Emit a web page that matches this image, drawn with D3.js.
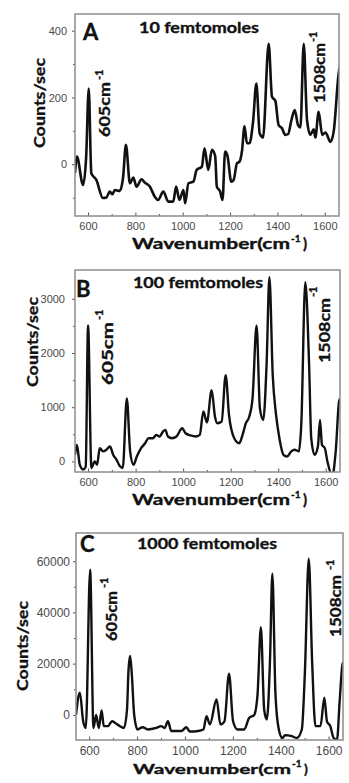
<!DOCTYPE html>
<meta charset="utf-8">
<script src="https://d3js.org/d3.v7.min.js"></script>
<style>
  body { margin: 0; background: #fff; }
  .tick text { fill: #4a4a4a; font-family: "Liberation Sans", Arial, sans-serif; }
  .tick line { stroke: #555; }
  .lbl { font-family: Lato, "Open Sans", sans-serif; font-weight: bold; fill: #111; stroke: #111; stroke-width: 0.35px; }
</style>
<body>
<div id="chart"></div>
<script>

// shared x ticks
var xTicks = [600, 800, 1000, 1200, 1400, 1600];
var xMinor = [700, 900, 1100, 1300, 1500];

// panel A: 10 femtomoles
var wnA = [545,553,579,592,603,614,635,663,677,692,703,713,734,748,760,777,791,805,826,840,
  861,882,896,918,939,960,972,986,1003,1010,1024,1045,1059,1081,1092,1108,1123,1137,1144,1158,
  1168,1179,1189,1205,1215,1229,1240,1250,1261,1271,1282,1297,1311,1325,1339,1363,1377,1391,1405,1419,
  1433,1445,1459,1473,1487,1497,1511,1525,1539,1553,1560,1574,1589,1603,1624,1638,1657,1662];
var countsA = [-27,23,-62,20,227,-27,-47,-101,-100,-82,-90,-77,-80,-40,58,-57,-40,-67,-45,-55,
  -67,-97,-107,-82,-112,-112,-67,-107,-77,-117,-57,-52,-17,-7,48,-17,43,25,-67,-82,
  -107,38,25,-52,-47,3,8,38,114,63,63,127,242,92,80,361,202,190,117,108,
  88,90,132,162,117,110,361,132,88,105,80,157,88,95,67,100,262,290];
var yTicksA = [0, 200, 400];
var yMinorA = [-100, 100, 300];

// panel B: 100 femtomoles
var wnB = [545,553,565,579,590,600,614,628,638,649,663,677,692,706,720,734,746,763,777,791,
  805,823,840,854,873,887,901,915,925,936,953,972,996,1010,1031,1052,1070,1085,1100,1120,
  1134,1144,1162,1179,1193,1215,1236,1250,1264,1278,1292,1309,1323,1337,1351,1363,1377,1391,1405,1422,
  1437,1455,1469,1487,1497,1514,1530,1539,1553,1567,1576,1584,1596,1607,1628,1642,1657,1662];
var countsB = [123,306,-61,-150,-100,2508,-122,0,-60,245,185,215,275,120,30,-90,-120,1163,185,-61,
  90,245,335,428,428,490,460,550,581,460,428,460,612,520,480,460,490,920,720,1315,
  825,705,735,1590,857,428,336,490,705,825,1163,2508,980,765,1780,3395,1590,857,428,123,
  92,185,215,185,673,3303,1780,428,123,275,765,306,245,0,-260,185,1132,1150];
var yTicksB = [0, 1000, 2000, 3000];
var yMinorB = [500, 1500, 2500];

// panel C: 1000 femtomoles
var wnC = [545,561,575,586,604,618,629,640,652,661,678,696,717,745,758,764,771,778,788,802,
  823,845,880,901,915,929,943,985,1006,1020,1055,1077,1090,1104,1132,1148,1165,1184,1201,1219,
  1247,1268,1289,1303,1317,1331,1342,1355,1365,1378,1392,1407,1418,1446,1467,1488,1501,1517,1531,1545,
  1566,1582,1593,1607,1621,1635,1646,1658,1662];
var countsC = [0,8640,-2500,-5100,56700,-5100,0,-5100,1700,-4400,-4400,-2500,-3700,-5100,2000,17000,23000,16000,0,-5700,
  -4800,-5700,-5100,-4400,-5100,-2500,-6300,-6300,-4800,-6500,-6300,-5700,-500,-3700,6000,-3700,-2500,16100,-2500,-5700,
  -5700,-1200,0,7800,34200,1900,-1800,21000,55100,8000,-5700,-9000,-7900,-8300,-9000,-5700,17000,61000,21000,-4400,
  -4400,6700,-2500,-4400,-9000,-9700,5300,19800,20500];
var yTicksC = [0, 20000, 40000, 60000];
var yMinorC = [10000, 30000, 50000];

var svg = d3.select("#chart").append("svg")
    .attr("width", 349)
    .attr("height", 783);

var panels = [
  { id: "A", title: "10 femtomoles", wn: wnA, counts: countsA, yTicks: yTicksA, yMinor: yMinorA,
    yDomain: [-155, 450], x0: 75, x1: 339, y0: 14, y1: 216, fs: 11, lw: 2.6,
    letter: [83, 40], titlePos: [139, 33, 120], ylab: [45, 103], xlab: [132, 249, 15],
    p605: [110, 137, 55, 103, 80], p1508: [325, 103, 60, 317, 42], xPad: 6, yPad: 5 },
  { id: "B", title: "100 femtomoles", wn: wnB, counts: countsB, yTicks: yTicksB, yMinor: yMinorB,
    yDomain: [-195, 3530], x0: 75, x1: 340, y0: 270, y1: 472, fs: 11, lw: 2.4,
    letter: [76, 297], titlePos: [133, 288, 130], ylab: [38, 342], xlab: [132, 505, 15],
    p605: [113, 385, 63, 103, 320], p1508: [330, 363, 65, 317, 297], xPad: 6, yPad: 7 },
  { id: "C", title: "1000 femtomoles", wn: wnC, counts: countsC, yTicks: yTicksC, yMinor: yMinorC,
    yDomain: [-9800, 71000], x0: 76, x1: 343, y0: 533, y1: 740, fs: 12, lw: 2.4,
    letter: [80, 552], titlePos: [137, 549, 140], ylab: [28, 646], xlab: [133, 774, 14],
    p605: [117, 641, 50, 108, 588], p1508: [341, 637, 62, 334, 570], xPad: 6, yPad: 3 }
];

panels.forEach(function(p) {
  var x = d3.scaleLinear().domain([545, 1660]).range([p.x0, p.x1]);
  var y = d3.scaleLinear().domain(p.yDomain).range([p.y1, p.y0]);
  var data = p.wn.map(function(w, i) { return { w: w, c: p.counts[i] }; });

  svg.append("clipPath").attr("id", "clip" + p.id)
    .append("rect")
      .attr("x", p.x0).attr("y", p.y0)
      .attr("width", p.x1 - p.x0).attr("height", p.y1 - p.y0);

  // axes
  var gx = svg.append("g")
      .attr("transform", "translate(0," + p.y1 + ")")
      .call(d3.axisBottom(x).tickValues(xTicks).tickSize(-3.5).tickPadding(p.xPad).tickFormat(d3.format("d")));
  gx.select(".domain").remove();
  gx.selectAll("text").style("font-size", p.fs + "px");

  var gxm = svg.append("g")
      .attr("transform", "translate(0," + p.y1 + ")")
      .call(d3.axisBottom(x).tickValues(xMinor).tickSize(-2).tickFormat(""));
  gxm.select(".domain").remove();

  var gy = svg.append("g")
      .attr("transform", "translate(" + p.x0 + ",0)")
      .call(d3.axisLeft(y).tickValues(p.yTicks).tickSize(3).tickPadding(p.yPad).tickFormat(d3.format("d")));
  gy.select(".domain").remove();
  gy.selectAll("text").style("font-size", p.fs + "px");

  var gym = svg.append("g")
      .attr("transform", "translate(" + p.x0 + ",0)")
      .call(d3.axisLeft(y).tickValues(p.yMinor).tickSize(2).tickFormat(""));
  gym.select(".domain").remove();

  // spectrum
  svg.append("path")
      .datum(data)
      .attr("clip-path", "url(#clip" + p.id + ")")
      .attr("fill", "none")
      .attr("stroke", "#111")
      .attr("stroke-width", p.lw)
      .attr("stroke-linejoin", "round")
      .attr("d", d3.line()
        .x(function(d) { return x(d.w); })
        .y(function(d) { return y(d.c); })
        .curve(d3.curveMonotoneX));

  // frame
  svg.append("rect")
      .attr("x", p.x0).attr("y", p.y0)
      .attr("width", p.x1 - p.x0).attr("height", p.y1 - p.y0)
      .attr("fill", "none")
      .attr("stroke", "#8c8c8c")
      .attr("stroke-width", 1.5);

  // labels
  svg.append("text").attr("class", "lbl")
      .attr("x", p.letter[0]).attr("y", p.letter[1])
      .style("font-size", "22px")
      .text(p.id);

  svg.append("text").attr("class", "lbl")
      .attr("x", p.titlePos[0]).attr("y", p.titlePos[1])
      .attr("textLength", p.titlePos[2]).attr("lengthAdjust", "spacingAndGlyphs")
      .style("font-size", "15px")
      .text(p.title);

  svg.append("text").attr("class", "lbl")
      .attr("transform", "translate(" + p.ylab[0] + "," + p.ylab[1] + ") rotate(-90)")
      .attr("text-anchor", "middle")
      .attr("textLength", 90).attr("lengthAdjust", "spacingAndGlyphs")
      .style("font-size", "16px")
      .text("Counts/sec");

  // x title: main part stretched, then superscript and closing bracket
  var fsx = p.xlab[2];
  svg.append("text").attr("class", "lbl")
      .attr("x", p.xlab[0]).attr("y", p.xlab[1])
      .attr("textLength", 158).attr("lengthAdjust", "spacingAndGlyphs")
      .style("font-size", fsx + "px")
      .text("Wavenumber(cm");
  svg.append("text").attr("class", "lbl")
      .attr("x", p.xlab[0] + 159).attr("y", p.xlab[1] - 7)
      .style("font-size", "10px")
      .text("-1");
  svg.append("text").attr("class", "lbl")
      .attr("x", p.xlab[0] + 171).attr("y", p.xlab[1])
      .style("font-size", fsx + "px")
      .text(")");

  [[p.p605, "605cm"], [p.p1508, "1508cm"]].forEach(function(a) {
    var q = a[0];
    svg.append("text").attr("class", "lbl")
        .attr("transform", "translate(" + q[0] + "," + q[1] + ") rotate(-90)")
        .attr("textLength", q[2]).attr("lengthAdjust", "spacingAndGlyphs")
        .style("font-size", "15px")
        .text(a[1]);
    svg.append("text").attr("class", "lbl")
        .attr("transform", "translate(" + q[3] + "," + q[4] + ") rotate(-90)")
        .style("font-size", "11px")
        .text("-1");
  });
});

</script>
</body>
